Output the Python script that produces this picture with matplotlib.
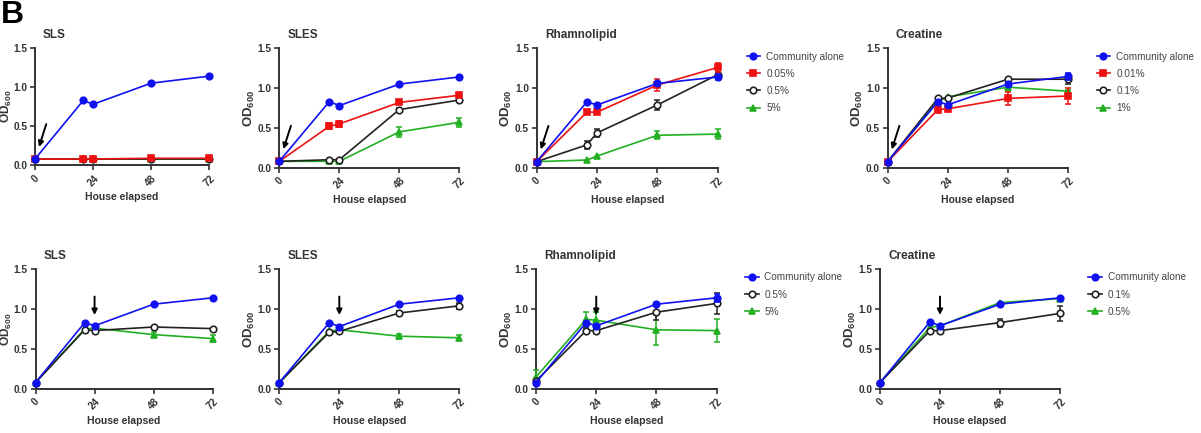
import matplotlib
matplotlib.use("Agg")
import matplotlib.pyplot as plt
import numpy as np

plt.rcParams['font.family'] = ['Liberation Sans', 'DejaVu Sans']
plt.rcParams['mathtext.fontset'] = 'custom'
plt.rcParams['mathtext.bf'] = 'Liberation Sans:bold'
plt.rcParams['mathtext.rm'] = 'Liberation Sans:bold'
plt.rcParams['mathtext.default'] = 'bf'

# Time points (h)
hours = [0, 20, 24, 48, 72]

# ---- Top row: treatment at 0 h ----
titles_top = ['SLS', 'SLES', 'Rhamnolipid', 'Creatine']
labels_top_surf = ['Community alone', '0.05%', '0.5%', '5%']
labels_top_creat = ['Community alone', '0.01%', '0.1%', '1%']

alone = [0.08, 0.83, 0.78, 1.05, 1.14]

sls_top = {
    'Community alone': (alone, None),
    '0.05%': ([0.08, 0.08, 0.08, 0.09, 0.09], None),
    '0.5%': ([0.08, 0.08, 0.08, 0.08, 0.08], None),
    '5%': ([0.08, 0.08, 0.08, 0.08, 0.08], None),
}
sles_top = {
    'Community alone': (alone, None),
    '0.05%': ([0.08, 0.52, 0.55, 0.82, 0.91], [0, 0.04, 0.04, 0.02, 0.02]),
    '0.5%': ([0.08, 0.10, 0.10, 0.73, 0.85], [0, 0, 0, 0.02, 0.02]),
    '5%': ([0.08, 0.08, 0.08, 0.45, 0.57], [0, 0, 0, 0.065, 0.06]),
}
rham_top = {
    'Community alone': ([0.08, 0.83, 0.79, 1.06, 1.14], [0, 0, 0, 0, 0.04]),
    '0.05%': ([0.08, 0.70, 0.70, 1.04, 1.26], [0, 0, 0, 0.08, 0.06]),
    '0.5%': ([0.08, 0.29, 0.44, 0.79, 1.17], [0, 0.05, 0.05, 0.06, 0.03]),
    '5%': ([0.08, 0.10, 0.15, 0.41, 0.425], [0, 0, 0, 0.05, 0.06]),
}
creat_top = {
    'Community alone': ([0.08, 0.83, 0.79, 1.05, 1.145], [0, 0, 0, 0, 0.04]),
    '0.01%': ([0.08, 0.73, 0.74, 0.87, 0.90], [0, 0.03, 0.03, 0.08, 0.10]),
    '0.1%': ([0.08, 0.87, 0.875, 1.11, 1.11], [0, 0, 0, 0.02, 0.06]),
    '1%': ([0.08, 0.83, 0.89, 1.01, 0.96], [0, 0, 0, 0.05, 0.02]),
}

# ---- Bottom row: treatment at 24 h ----
titles_bot = ['SLS', 'SLES', 'Rhamnolipid', 'Creatine']
labels_bot_surf = ['Community alone', '0.5%', '5%']
labels_bot_creat = ['Community alone', '0.1%', '0.5%']

sls_bot = {
    'Community alone': ([0.08, 0.83, 0.79, 1.06, 1.14], None),
    '0.5%': ([0.08, 0.74, 0.73, 0.775, 0.755], None),
    '5%': ([0.08, 0.75, 0.76, 0.68, 0.63], [0, 0, 0, 0.03, 0.04]),
}
sles_bot = {
    'Community alone': ([0.08, 0.83, 0.78, 1.06, 1.14], None),
    '0.5%': ([0.08, 0.71, 0.72, 0.95, 1.04], [0, 0, 0, 0.02, 0.04]),
    '5%': ([0.08, 0.725, 0.74, 0.66, 0.64], [0, 0, 0, 0.03, 0.03]),
}
rham_bot = {
    'Community alone': ([0.08, 0.83, 0.79, 1.06, 1.14], [0, 0, 0, 0, 0.05]),
    '0.5%': ([0.10, 0.73, 0.73, 0.96, 1.07], [0, 0.03, 0.03, 0.10, 0.13]),
    '5%': ([0.15, 0.87, 0.86, 0.74, 0.73], [0.09, 0.09, 0.10, 0.19, 0.14]),
}
creat_bot = {
    'Community alone': ([0.08, 0.84, 0.79, 1.06, 1.14], None),
    '0.1%': ([0.08, 0.73, 0.73, 0.83, 0.945], [0, 0, 0, 0.05, 0.09]),
    '0.5%': ([0.08, 0.77, 0.79, 1.08, 1.13], None),
}

colors = ['#1010f0', '#ee1111', '#222222', '#22b022']
markers = ['o', 's', 'o', '^']
faces = ['#1010f0', '#ee1111', 'white', '#22b022']

W, H = 1201, 433
fig = plt.figure(figsize=(W / 100, H / 100), dpi=100)

def px_axes(l, r, t, b):
    return fig.add_axes([l / W, 1 - b / H, (r - l) / W, (b - t) / H])

def style(ax, title, first=False):
    ax.set_xlim(0, 72)
    ax.set_ylim(0, 1.5)
    for s in ['top', 'right']:
        ax.spines[s].set_visible(False)
    for s in ['left', 'bottom']:
        ax.spines[s].set_linewidth(1.4)
        ax.spines[s].set_color('#333333')
    ax.set_xticks([0, 24, 48, 72])
    ax.set_yticks([0, 0.5, 1.0, 1.5])
    ax.set_yticklabels(['0.0', '0.5', '1.0', '1.5'])
    ax.tick_params(axis='both', length=3.5, width=1.2, color='#333333',
                   labelsize=7.3, labelcolor='#333333', pad=2)
    for lab in ax.get_xticklabels():
        lab.set_rotation(45)
        lab.set_fontweight('bold')
        lab.set_ha('center')
        lab.set_va('top')
    for lab in ax.get_yticklabels():
        lab.set_fontweight('bold')
    ax.set_xlabel('House elapsed', fontsize=7.5, fontweight='bold',
                  color='#333333', labelpad=3)
    ax.set_ylabel('OD$_{600}$', fontsize=8.6 if first else 9.5,
                  fontweight='bold', color='#333333', labelpad=0.5)
    if first:
        # leftmost panels: keep label inside the figure edge
        pos = ax.get_position()
        ax.yaxis.set_label_coords(-(pos.x0 * W - 14) / (pos.width * W), 0.5)
    ax.text(0.045, 1.06, title, transform=ax.transAxes, fontsize=8.5,
            fontweight='bold', color='#333333', ha='left', va='bottom')

def draw(ax, data, labels, idx_map):
    hmap = {}
    for k in reversed(range(len(labels))):
        lab = labels[k]
        ci = idx_map[k]
        y, err = data[lab]
        y = np.array(y)
        if err is not None:
            e = np.array(err)
            m = e > 0
            ax.errorbar(np.array(hours)[m], y[m], yerr=e[m], fmt='none',
                        ecolor=colors[ci], elinewidth=1.1, capsize=2.2,
                        capthick=1.1, clip_on=False, zorder=2 + (3 - k))
        ln, = ax.plot(hours, y, color=colors[ci], marker=markers[ci],
                      markerfacecolor=faces[ci], markeredgecolor=colors[ci],
                      markersize=4.7, markeredgewidth=1.2, linewidth=1.2,
                      clip_on=False, zorder=3 + (3 - k), label=lab)
        hmap[lab] = ln
    return [hmap[l] for l in labels]

top_rects = [(35, 209, 48, 165.3), (279.3, 459.3, 48.3, 167.7),
             (536.7, 717.7, 48.3, 168), (887.7, 1068.3, 48, 168)]
bot_rects = [(35.5, 212.7, 269, 389), (279.3, 459.3, 269, 389),
             (536, 716.7, 269, 389), (880, 1060, 269, 389)]

top_data = [sls_top, sles_top, rham_top, creat_top]
bot_data = [sls_bot, sles_bot, rham_bot, creat_bot]

def add_legend(handles, x, y):
    fig.legend(handles=handles, loc='upper left',
               bbox_to_anchor=(x / W, 1 - y / H), frameon=False,
               fontsize=7.2, handlelength=1.35, handletextpad=0.6,
               labelspacing=0.72, borderpad=0, borderaxespad=0,
               labelcolor='#444444')

for i in range(4):
    ax = px_axes(*top_rects[i])
    labs = labels_top_creat if i == 3 else labels_top_surf
    hs = draw(ax, top_data[i], labs, [0, 1, 2, 3])
    style(ax, titles_top[i], first=(i == 0))
    ax.annotate('', xy=(1.3, 0.2), xytext=(5, 0.56),
                arrowprops=dict(arrowstyle='-|>', color='black', lw=1.4,
                                mutation_scale=8))
    if i == 2:
        add_legend(hs, 746.7, 51.5)
    if i == 3:
        add_legend(hs, 1096.7, 51.5)

for i in range(4):
    ax = px_axes(*bot_rects[i])
    labs = labels_bot_creat if i == 3 else labels_bot_surf
    hs = draw(ax, bot_data[i], labs, [0, 2, 3])
    style(ax, titles_bot[i], first=(i == 0))
    ax.annotate('', xy=(24, 0.89), xytext=(24, 1.19),
                arrowprops=dict(arrowstyle='-|>', color='black', lw=1.4,
                                mutation_scale=8))
    if i == 2:
        add_legend(hs, 745, 272.5)
    if i == 3:
        add_legend(hs, 1088, 272.5)

fig.text(1 / W, 1 - 0 / H, 'B', fontsize=23, fontweight='bold',
         ha='left', va='top')

fig.savefig('out.png', dpi=100)
